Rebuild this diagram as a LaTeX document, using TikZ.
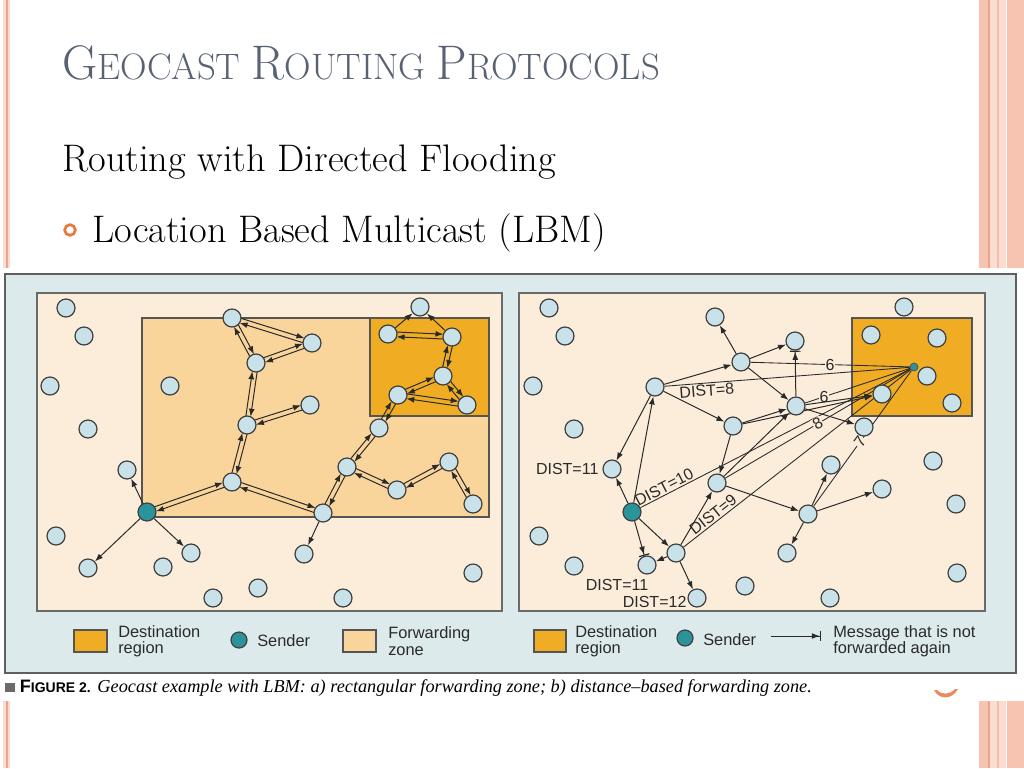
\documentclass[tikz,border=0pt]{standalone}
\usepackage{fontspec}
\usetikzlibrary{arrows.meta,calc}
\newfontfamily\lsans{Liberation Sans}
\newfontfamily\lserif{Liberation Serif}
\definecolor{slidepink}{HTML}{F7C4B2}
\definecolor{slidepinkl}{HTML}{FBDCD0}
\definecolor{slideline}{HTML}{EBA48E}
\definecolor{titlegray}{HTML}{586272}
\definecolor{bulletc}{HTML}{E8773D}
\definecolor{figbg}{HTML}{DDEAEC}
\definecolor{panel}{HTML}{FCEDDB}
\definecolor{fwd}{HTML}{F9D59C}
\definecolor{dest}{HTML}{F0AD23}
\definecolor{nodefill}{HTML}{C9E1E8}
\definecolor{sendfill}{HTML}{2B949B}
\definecolor{ink}{HTML}{2A2A2A}
\pgfdeclarelayer{back}\pgfdeclarelayer{edges}
\pgfsetlayers{back,edges,main}
\tikzset{
  nd/.style={circle, minimum size=13.5pt, inner sep=0pt, fill=nodefill, draw=ink!90, line width=0.9pt},
  snd/.style={nd, fill=sendfill},
  ar/.style={draw=ink, line width=0.75pt, -{Latex[length=6pt,width=4.4pt]}},
  arb/.style={draw=ink, line width=0.75pt, -{Latex[length=6pt,width=4.4pt] Bar[width=8pt,line width=0.9pt]}},
  pr/.style={ar, shorten >=6.5pt},
  dl/.style={draw=ink, line width=0.65pt},
  lbl/.style={font=\lsans\fontsize{12}{12}\selectfont, text=ink, inner sep=1pt},
  lgd/.style={font=\lsans\fontsize{12.3}{12.3}\selectfont, text=ink, inner sep=0pt, align=left, anchor=west},
  onl/.style={lbl, fill=panel, inner sep=0.5pt},
  zone/.style={draw=ink!80, line width=0.8pt}
}
\newcommand\pairarr[2]{%
  \draw[pr] ($(#1)!1.8pt!90:(#2)$) -- ($(#2)!1.8pt!-90:(#1)$);
  \draw[pr] ($(#2)!1.8pt!90:(#1)$) -- ($(#1)!1.8pt!-90:(#2)$);}
\begin{document}
\begin{tikzpicture}[x=0.75pt,y=-0.75pt]
\useasboundingbox (0,0) rectangle (1024,768);
\begin{pgfonlayer}{back}
\fill[white] (0,0) rectangle (1024,768);
\fill[slidepinkl] (3,0) rectangle (10,768);
\draw[slideline, line width=1.2pt] (7,0) -- (7,768);
\fill[slidepink] (979,0) rectangle (988,768);
\fill[slidepinkl] (990,0) rectangle (1006,768);
\draw[slideline, line width=0.8pt] (989,0) -- (989,768);
\draw[slideline!70, line width=0.8pt] (998,0) -- (998,768);
\fill[slidepink] (1007,0) rectangle (1024,768);
\fill[white] (0,268) rectangle (1024,701);
\fill[bulletc!85] (934,690) .. controls (939,700) and (952,700) .. (958,689) -- (955,689) .. controls (950,695) and (941,695) .. (937,690) -- cycle;
\filldraw[fill=figbg, draw=ink!75, line width=1pt] (5,274) rectangle (1016,673);
% left panel
\filldraw[fill=panel, draw=ink!70, line width=1pt] (37,293) rectangle (502,611);
\filldraw[fill=fwd, zone] (142,318) rectangle (489,517);
\filldraw[fill=dest, zone] (370,318) rectangle (489,416);
% right panel
\filldraw[fill=panel, draw=ink!70, line width=1pt] (519,293) rectangle (985,611);
\filldraw[fill=dest, zone] (852,318) rectangle (972,416);
\end{pgfonlayer}

% titles
\node[anchor=base west, inner sep=0, text=titlegray] (title) at (62,79)
  {\fontsize{36.4}{36.4}\selectfont G\fontsize{27.6}{27.6}\selectfont EOCAST \fontsize{36.4}{36.4}\selectfont R\fontsize{27.6}{27.6}\selectfont OUTING \fontsize{36.4}{36.4}\selectfont P\fontsize{27.6}{27.6}\selectfont ROTOCOLS};
\node[anchor=base west, inner sep=0] (sub) at (62,171) {\fontsize{28.8}{28.8}\selectfont Routing with Directed Flooding};
\node[circle, draw=bulletc, line width=2pt, minimum size=8pt, inner sep=0] (bul) at (70,230) {};
\node[anchor=base west, inner sep=0] (item) at (92,242) {\fontsize{28.8}{28.8}\selectfont Location Based Multicast (LBM)};

% ---------- left panel nodes ----------
\node[nd] (l1) at (66,308) {};
\node[nd] (l2) at (84,336) {};
\node[nd] (l3) at (50,386) {};
\node[nd] (l4) at (170,386) {};
\node[nd] (l5) at (88,429) {};
\node[nd] (l6) at (127,470) {};
\node[nd] (l7) at (56,536) {};
\node[nd] (l8) at (88,568) {};
\node[nd] (l9) at (163,567) {};
\node[nd] (l10) at (191,553) {};
\node[nd] (l11) at (213,598) {};
\node[nd] (l12) at (258,588) {};
\node[nd] (l13) at (343,598) {};
\node[nd] (l14) at (304,554) {};
\node[nd] (l15) at (473,573) {};
\node[snd] (S) at (147,512) {};
\node[nd] (A) at (232,318) {};
\node[nd] (B) at (312,343) {};
\node[nd] (C) at (256,363) {};
\node[nd] (D) at (310,405) {};
\node[nd] (E) at (247,425) {};
\node[nd] (F) at (232,482) {};
\node[nd] (G) at (323,513) {};
\node[nd] (H) at (347,467) {};
\node[nd] (I) at (397,490) {};
\node[nd] (J) at (449,462) {};
\node[nd] (K) at (473,504) {};
\node[nd] (L) at (379,428) {};
\node[nd] (M) at (398,395) {};
\node[nd] (N) at (443,376) {};
\node[nd] (O) at (467,405) {};
\node[nd] (P) at (452,337) {};
\node[nd] (Q) at (388,334) {};
\node[nd] (R) at (420,307) {};

% ---------- right panel nodes ----------
\node[nd] (r1) at (549,308) {};
\node[nd] (r2) at (565,336) {};
\node[nd] (r3) at (533,386) {};
\node[nd] (r4) at (574,429) {};
\node[nd] (r5) at (539,536) {};
\node[nd] (r6) at (574,566) {};
\node[nd] (rtop) at (715,317) {};
\node[nd] (rn2) at (795,341) {};
\node[nd] (rd1) at (904,307) {};
\node[nd] (rd2) at (871,335) {};
\node[nd] (rd3) at (937,338) {};
\node[nd] (rd4) at (927,376) {};
\node[nd] (rd5) at (882,394) {};
\node[nd] (rd6) at (952,403) {};
\node[nd] (r7) at (933,461) {};
\node[nd] (r8) at (882,489) {};
\node[nd] (r9) at (956,504) {};
\node[nd] (r10) at (957,573) {};
\node[nd] (r11) at (831,465) {};
\node[nd] (r12) at (787,553) {};
\node[nd] (r13) at (745,586) {};
\node[nd] (r14) at (830,598) {};
\node[nd] (d12) at (697,598) {};
\node[nd] (d11b) at (647,565) {};
\node[nd] (d11a) at (612,469) {};
\node[nd] (U) at (741,362) {};
\node[nd] (V) at (655,387) {};
\node[nd] (W) at (796,406) {};
\node[nd] (X) at (733,426) {};
\node[nd] (Y) at (864,427) {};
\node[nd] (Z) at (717,483) {};
\node[nd] (T2) at (808,514) {};
\node[nd] (T) at (676,553) {};
\node[snd] (S2) at (632,512) {};
\node[circle, fill=sendfill, draw=ink!85, line width=0.5pt, minimum size=6pt, inner sep=0] (ctr) at (914,367) {};

\node[lbl, anchor=east] (t11a) at (600,469) {DIST=11};
\node[lbl] (t11b) at (617,585) {DIST=11};
\node[lbl, anchor=east] (t12) at (688,602) {DIST=12};

\begin{pgfonlayer}{edges}
% left panel connectors
\pairarr{A}{B}
\pairarr{A}{C}
\pairarr{C}{B}
\pairarr{C}{E}
\pairarr{E}{D}
\pairarr{E}{F}
\pairarr{F}{S}
\pairarr{F}{G}
\pairarr{G}{H}
\pairarr{H}{L}
\pairarr{L}{M}
\pairarr{M}{N}
\pairarr{M}{O}
\pairarr{N}{O}
\pairarr{N}{P}
\pairarr{P}{Q}
\pairarr{H}{I}
\pairarr{I}{J}
\pairarr{J}{K}
\draw[ar] (Q) -- (R);
\draw[ar] (P) -- (R);
\draw[ar] (S) -- (l6);
\draw[ar] (S) -- (l8);
\draw[ar] (S) -- (l10);
\draw[ar] (G) -- (l14);

% right panel distance lines
\draw[dl] (S2) -- node[lbl, sloped, above, pos=0.1] {DIST=10} (ctr);
\draw[dl] (T) -- node[lbl, sloped, above, pos=0.15] {DIST=9} (ctr);
\draw[dl] (Z) -- node[onl, sloped, pos=0.5] {8} (ctr);
\draw[dl] (T2) -- node[onl, sloped, pos=0.475] {7} (ctr);
\draw[dl] (V) -- node[lbl, sloped, below, pos=0.17] {DIST=8} (ctr);
\draw[dl] (U) -- node[onl, pos=0.5] {6} (ctr);
\draw[dl] (W) -- node[onl, pos=0.18] {6} (ctr);

% right panel arrows
\draw[ar] (S2) -- (d11a);
\draw[ar] (V) -- (d11a);
\draw[ar] (S2) -- (V);
\draw[arb] (S2) -- (d11b);
\draw[ar] (S2) -- (T);
\draw[ar] (T) -- (d11b);
\draw[ar] (T) -- (d12);
\draw[ar] (T) -- (Z);
\draw[ar] (V) -- (U);
\draw[ar] (V) -- (X);
\draw[ar] (U) -- (rtop);
\draw[ar] (U) -- (rn2);
\draw[ar] (U) -- (W);
\draw[arb] (W) -- (rn2);
\draw[ar] (X) -- (W);
\draw[ar] (X) -- (Z);
\draw[ar] (Z) -- (W);
\draw[ar] (Z) -- (T2);
\draw[ar] (W) -- (Y);
\draw[ar] (W) -- (rd5);
\draw[ar] (X) -- (rd5);
\draw[ar] (T2) -- (r11);
\draw[ar] (T2) -- (r8);
\draw[ar] (T2) -- (r12);
\end{pgfonlayer}

% ---------- legends ----------
\filldraw[fill=dest, draw=ink!80, line width=0.8pt] (74,630) rectangle (107,652);
\node[lgd] (lg1) at (118,641) {Destination\\region};
\node[snd, minimum size=12pt] (lgs1) at (239,640) {};
\node[lgd] (lg2) at (257,641) {Sender};
\filldraw[fill=fwd, draw=ink!80, line width=0.8pt] (343,630) rectangle (376,652);
\node[lgd] (lg3) at (388,641) {Forwarding\\zone};

\filldraw[fill=dest, draw=ink!80, line width=0.8pt] (534,630) rectangle (566,652);
\node[lgd] (lg4) at (575,641) {Destination\\region};
\node[snd, minimum size=12pt] (lgs2) at (685,638) {};
\node[lgd] (lg5) at (703,640) {Sender};
\coordinate (la) at (771,636);
\coordinate (lb) at (821,636);
\draw[arb] (la) -- (lb);
\node[lgd] (lg6) at (833,641) {Message that is not\\forwarded again};

% caption
\node[anchor=west, inner sep=0] (cap) at (5,688) {{\color{ink!70}\rule{7pt}{7pt}}\hspace{4pt}{\lsans\bfseries\fontsize{13.5}{13.5}\selectfont F\fontsize{10.5}{10.5}\selectfont IGURE 2.}\hspace{5pt}{\lserif\itshape\fontsize{13.7}{13.7}\selectfont Geocast example with LBM: a) rectangular forwarding zone; b) distance–based forwarding zone.}};
\end{tikzpicture}
\end{document}
